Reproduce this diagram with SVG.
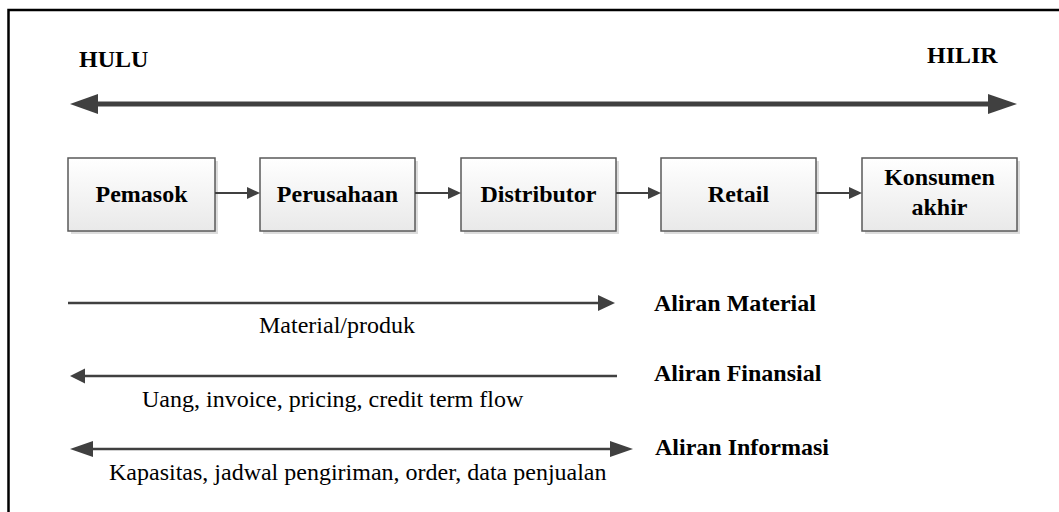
<svg xmlns="http://www.w3.org/2000/svg" width="1059" height="512" viewBox="0 0 1059 512">
  <style>
    .t { font-family: "Liberation Serif", "Times New Roman", serif; font-size: 24px; fill: #000; }
    .b { font-weight: bold; }
    .box { fill: url(#boxFill); stroke: #5a5a5a; stroke-width: 1.5; }
    .shadow { fill: #dcdcdc; }
    .ln { stroke: #404040; fill: none; }
    .hd { fill: #404040; }
  </style>
  <defs>
    <linearGradient id="boxFill" x1="0" y1="0" x2="0" y2="1">
      <stop offset="0" stop-color="#ffffff"/>
      <stop offset="1" stop-color="#e9e9e9"/>
    </linearGradient>
  </defs>

  <rect width="1059" height="512" fill="#fff"/>
  <!-- frame -->
  <rect x="8.5" y="10" width="1100" height="600" fill="none" stroke="#000" stroke-width="2.5"/>

  <!-- upstream / downstream labels -->
  <text class="t b" x="79" y="67">HULU</text>
  <text class="t b" x="927" y="63">HILIR</text>

  <!-- nodes -->
  <g id="pemasok">
    <rect class="shadow" x="71" y="161" width="147" height="73"/>
    <rect class="box" x="68" y="158" width="147" height="73"/>
    <text class="t b" x="141.5" y="202" text-anchor="middle">Pemasok</text>
  </g>
  <g id="perusahaan">
    <rect class="shadow" x="263" y="161" width="155" height="73"/>
    <rect class="box" x="260" y="158" width="155" height="73"/>
    <text class="t b" x="337.5" y="202" text-anchor="middle">Perusahaan</text>
  </g>
  <g id="distributor">
    <rect class="shadow" x="464" y="161" width="155" height="73"/>
    <rect class="box" x="461" y="158" width="155" height="73"/>
    <text class="t b" x="538.5" y="202" text-anchor="middle">Distributor</text>
  </g>
  <g id="retail">
    <rect class="shadow" x="664" y="161" width="155" height="73"/>
    <rect class="box" x="661" y="158" width="155" height="73"/>
    <text class="t b" x="738.5" y="202" text-anchor="middle">Retail</text>
  </g>
  <g id="konsumen">
    <rect class="shadow" x="865" y="161" width="155" height="73"/>
    <rect class="box" x="862" y="158" width="155" height="73"/>
    <text class="t b" x="939.5" y="185" text-anchor="middle">Konsumen</text>
    <text class="t b" x="939.5" y="215" text-anchor="middle">akhir</text>
  </g>

  <!-- connectors -->
  <g id="connectors">
    <!-- upstream-downstream double arrow -->
    <line class="ln" x1="96" y1="104" x2="990" y2="104" stroke-width="5"/>
    <polygon class="hd" points="70,104 98,94 98,114"/>
    <polygon class="hd" points="1017,104 988,94 988,114"/>

    <!-- chain links between nodes -->
    <line class="ln" x1="215" y1="193" x2="249" y2="193" stroke-width="2"/>
    <polygon class="hd" points="260,193 247,187 247,199"/>
    <line class="ln" x1="415" y1="193" x2="450" y2="193" stroke-width="2"/>
    <polygon class="hd" points="461,193 448,187 448,199"/>
    <line class="ln" x1="616" y1="193" x2="650" y2="193" stroke-width="2"/>
    <polygon class="hd" points="661,193 648,187 648,199"/>
    <line class="ln" x1="816" y1="193" x2="851" y2="193" stroke-width="2"/>
    <polygon class="hd" points="862,193 849,187 849,199"/>

    <!-- material flow -->
    <line class="ln" x1="68" y1="303" x2="600" y2="303" stroke-width="2.5"/>
    <polygon class="hd" points="615,303 598,295 598,311"/>

    <!-- financial flow -->
    <line class="ln" x1="83" y1="376" x2="617" y2="376" stroke-width="2.5"/>
    <polygon class="hd" points="70,376 85,368.5 85,383.5"/>

    <!-- information flow -->
    <line class="ln" x1="91" y1="449" x2="612" y2="449" stroke-width="2.5"/>
    <polygon class="hd" points="70,449 93,441 93,457"/>
    <polygon class="hd" points="633,449 610,441 610,457"/>
  </g>

  <!-- flow labels -->
  <text class="t" x="259" y="333">Material/produk</text>
  <text class="t b" x="654" y="311">Aliran Material</text>
  <text class="t" x="142" y="407">Uang, invoice, pricing, credit term flow</text>
  <text class="t b" x="654" y="381">Aliran Finansial</text>
  <text class="t" x="109" y="480">Kapasitas, jadwal pengiriman, order, data penjualan</text>
  <text class="t b" x="655" y="455">Aliran Informasi</text>
</svg>
